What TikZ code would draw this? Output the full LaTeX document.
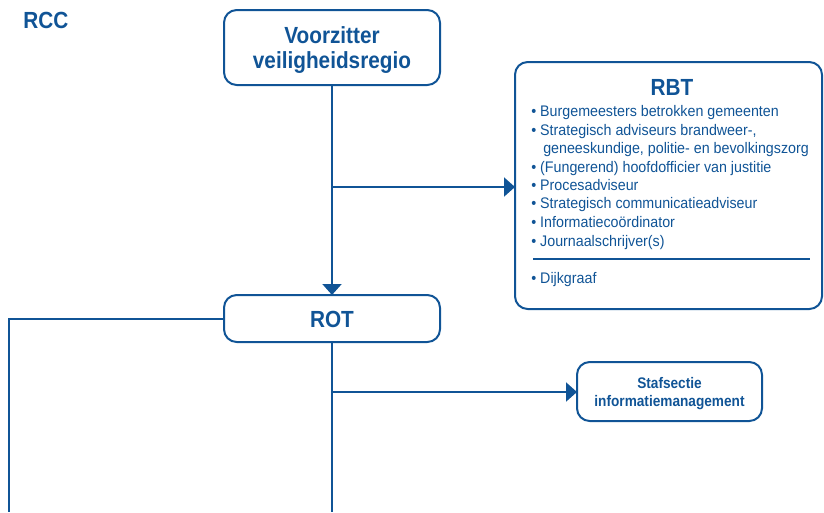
\documentclass[tikz,border=0pt]{standalone}
\usepackage{fontspec}
\setmainfont{Liberation Sans}[FakeStretch=0.93]
\newfontfamily\bcn{Liberation Sans}[FakeStretch=0.89]
\usetikzlibrary{arrows.meta}
\definecolor{vrblue}{RGB}{16,84,150}
\begin{document}
\begin{tikzpicture}[x=0.75pt,y=-0.75pt,
  box/.style={draw=vrblue,line width=1.5pt,rounded corners=9.5pt,inner sep=0pt,outer sep=0pt,anchor=north west},
  conn/.style={draw=vrblue,line width=1.5pt},
  arr/.style={conn,-{Triangle[length=8.25pt,width=14.25pt]}},
  big/.style={text=vrblue,inner sep=0pt,font=\bcn\bfseries\fontsize{17.5pt}{18.75pt}\selectfont},
  small/.style={text=vrblue,inner sep=0pt,anchor=base west,font=\fontsize{11.5pt}{13.95pt}\selectfont},
  staf/.style={text=vrblue,inner sep=0pt,anchor=base,font=\bcn\bfseries\fontsize{11.5pt}{13.5pt}\selectfont}]
\useasboundingbox (0,0) rectangle (824,512);

% boxes
\node[box,minimum width=162pt,minimum height=56.25pt] (vz) at (224,10) {};
\node[box,minimum width=230.25pt,minimum height=185.25pt] (rbt) at (515,62) {};
\node[box,minimum width=162pt,minimum height=35.25pt] (rot) at (224,295) {};
\node[box,minimum width=138.75pt,minimum height=44.25pt] (ism) at (577,362) {};

% texts
\node[big,anchor=base west] (rcc) at (23,28) {RCC};
\node[big,anchor=base] (vz1) at (332,43) {Voorzitter};
\node[big,anchor=base] (vz2) at (332,68) {veiligheidsregio};
\node[big,anchor=base] (rottxt) at (332,327) {ROT};
\node[big,anchor=base] (rbttitle) at (672,95) {RBT};

\node[small] (l1) at (531,116) {• Burgemeesters betrokken gemeenten};
\node[small] (l2) at (531,135) {• Strategisch adviseurs brandweer-,};
\node[small] (l3) at (543,153) {geneeskundige, politie- en bevolkingszorg};
\node[small] (l4) at (531,172) {• (Fungerend) hoofdofficier van justitie};
\node[small] (l5) at (531,190) {• Procesadviseur};
\node[small] (l6) at (531,208) {• Strategisch communicatieadviseur};
\node[small] (l7) at (531,227) {• Informatiecoördinator};
\node[small] (l8) at (531,246) {• Journaalschrijver(s)};
\node[small] (l9) at (531,283) {• Dijkgraaf};
\coordinate (sepL) at (533,259);
\coordinate (sepR) at (810,259);
\draw[draw=vrblue,line width=0.9pt] (sepL) -- (sepR);

\node[staf] (s1) at (669.5,388) {Stafsectie};
\node[staf] (s2) at (669.5,406) {informatiemanagement};

% connectors
\coordinate (y1) at (0,187);
\coordinate (y2) at (0,392);
\coordinate (ybot) at (0,512);
\coordinate (leftx) at (9,0);
\coordinate (b1) at (vz.south |- y1);
\coordinate (b2) at (rot.south |- y2);
\draw[arr] (vz.south) -- (rot.north);
\draw[arr] (b1) -- (b1 -| rbt.west);
\draw[conn] (rot.west) -- (rot.west -| leftx) -- (leftx |- ybot);
\draw[conn] (rot.south) -- (rot.south |- ybot);
\draw[arr] (b2) -- (b2 -| ism.west);
\end{tikzpicture}
\end{document}
